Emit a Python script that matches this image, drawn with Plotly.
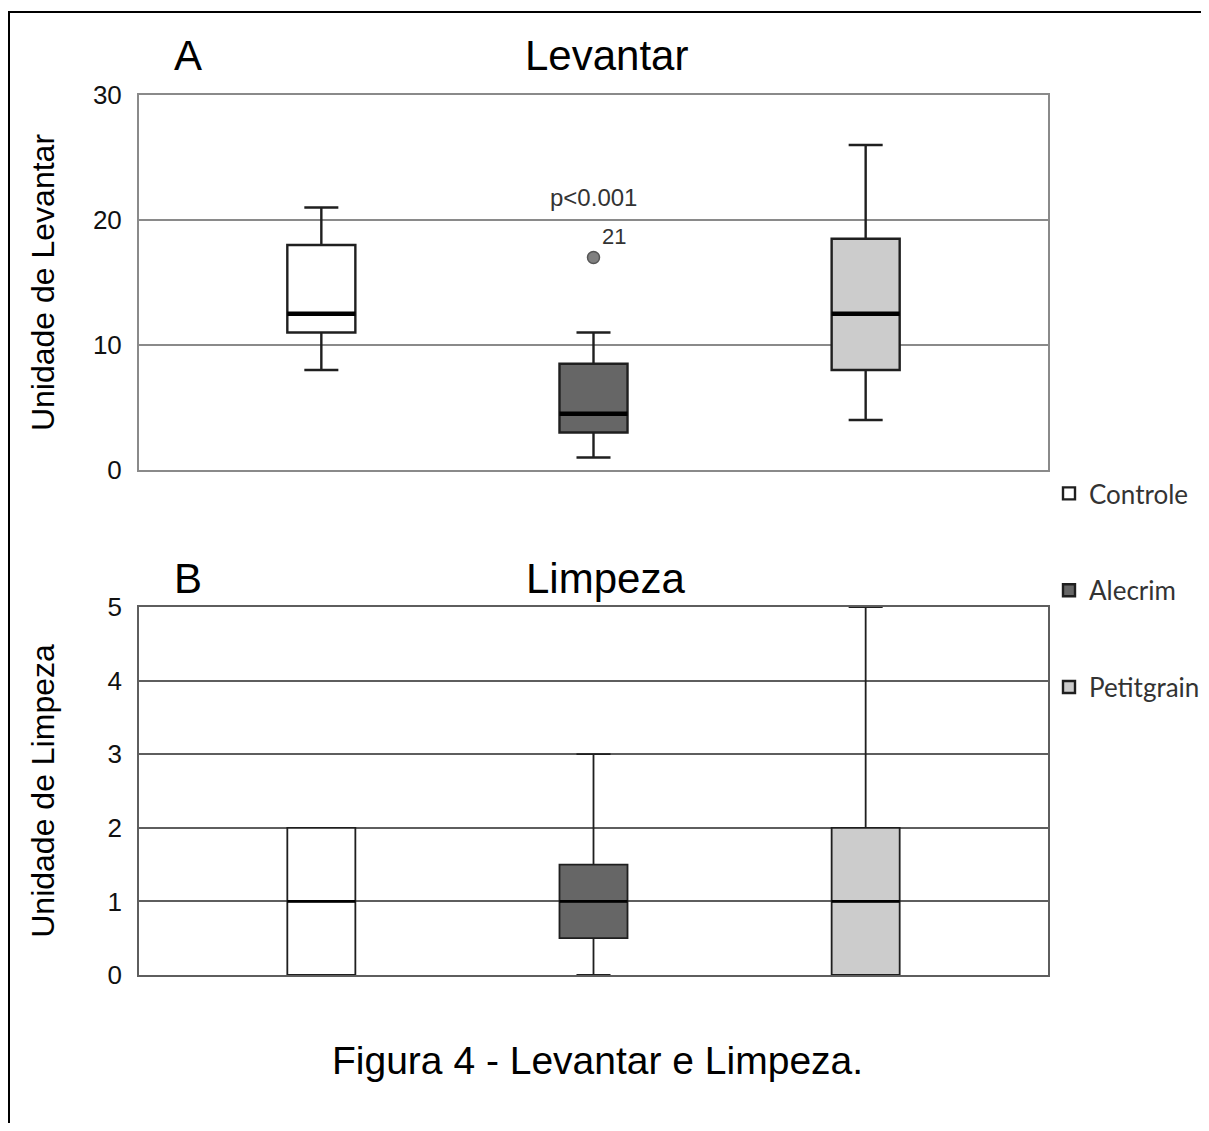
import plotly.graph_objects as go

# ---------------- data ----------------
groups = ["Controle", "Alecrim", "Petitgrain"]
fill_colors = ["#ffffff", "#666666", "#cccccc"]

# Panel A - Levantar
lev_min = [8, 1, 4]
lev_q1 = [11, 3, 8]
lev_med = [12.5, 4.5, 12.5]
lev_q3 = [18, 8.5, 18.5]
lev_max = [21, 11, 26]
lev_outlier_group = "Alecrim"
lev_outlier_value = [17]
lev_outlier_label = ["21"]
lev_ticks = [0, 10, 20, 30]

# Panel B - Limpeza
lim_min = [0, 0, 0]
lim_q1 = [0, 0.5, 0]
lim_med = [1, 1, 1]
lim_q3 = [2, 1.5, 2]
lim_max = [2, 3, 5]
lim_ticks = [0, 1, 2, 3, 4, 5]

# ---------------- layout helpers (screen pixel -> figure coords) ----------------
OFF = 8                      # page body margin
SW, SH = 1209, 1131          # screen size
W, H = SW - 2 * OFF, SH - 2 * OFF    # figure size (fits without scrollbars)
ML = 139 - OFF
MT = 95 - OFF
MR = (OFF + W) - 1048
MB = (OFF + H) - 975
PW, PH = W - ML - MR, H - MT - MB


def px_x(s):
    return (s - OFF - ML) / PW


def px_y(s):
    return (H - MB - (s - OFF)) / PH


BOX_W = 0.25
FONT = "Liberation Sans, Arial, sans-serif"
positions = list(range(len(groups)))

fig = go.Figure()


def add_panel(xa, ya, mins, q1s, meds, q3s, maxs, lw, med_w, show_legend):
    for i, g in enumerate(groups):
        fig.add_trace(go.Box(
            x=[positions[i]], q1=[q1s[i]], median=[meds[i]], q3=[q3s[i]],
            lowerfence=[mins[i]], upperfence=[maxs[i]],
            width=BOX_W, whiskerwidth=0.5, boxpoints=False,
            fillcolor=fill_colors[i],
            line=dict(color="#1f1f1f", width=lw),
            name=g, legendgroup=g, showlegend=show_legend,
            xaxis=xa, yaxis=ya, hoverinfo="y",
        ))
        fig.add_trace(go.Scatter(
            x=[positions[i] - BOX_W / 2, positions[i] + BOX_W / 2],
            y=[meds[i], meds[i]], mode="lines",
            line=dict(color="black", width=med_w),
            showlegend=False, hoverinfo="skip", legendgroup=g,
            xaxis=xa, yaxis=ya,
        ))


add_panel("x", "y", lev_min, lev_q1, lev_med, lev_q3, lev_max, 2.4, 4.5, True)
add_panel("x2", "y2", lim_min, lim_q1, lim_med, lim_q3, lim_max, 1.8, 2.6, False)

# outlier in panel A
oi = groups.index(lev_outlier_group)
fig.add_trace(go.Scatter(
    x=[positions[oi]], y=lev_outlier_value, mode="markers+text",
    marker=dict(size=12, color="#808080", line=dict(color="#555555", width=1.5)),
    text=lev_outlier_label, textposition="top right",
    textfont=dict(size=22, color="#333333", family=FONT),
    showlegend=False, xaxis="x", yaxis="y", hoverinfo="y",
))

grid_top = "#8a8a8a"
grid_bot = "#5e5e5e"
xrange = [-0.67, len(groups) - 1 + 0.67]

common_x = dict(range=xrange, showticklabels=False, showgrid=False, zeroline=False,
                showline=True, mirror=True, ticks="", fixedrange=True)
common_y = dict(zeroline=False, showline=True, mirror=True, ticks="outside",
                tickcolor="rgba(0,0,0,0)", ticklen=10,
                tickfont=dict(size=26, family=FONT, color="#111111"))

fig.update_layout(
    width=W, height=H,
    margin=dict(l=ML, r=MR, t=MT, b=MB, autoexpand=False),
    paper_bgcolor="white", plot_bgcolor="white",
    font=dict(family=FONT, color="black"),
    xaxis=dict(domain=[0, 1], anchor="y", linecolor=grid_top, linewidth=2, **common_x),
    yaxis=dict(domain=[px_y(470), px_y(95)], anchor="x", range=[0, 30], tickvals=lev_ticks,
               gridcolor=grid_top, gridwidth=2, linecolor=grid_top, linewidth=2,
               title=dict(text="Unidade de Levantar", font=dict(size=32, family=FONT), standoff=29),
               **common_y),
    xaxis2=dict(domain=[0, 1], anchor="y2", linecolor=grid_bot, linewidth=1.6, **common_x),
    yaxis2=dict(domain=[px_y(975), px_y(607)], anchor="x2", range=[0, 5], tickvals=lim_ticks,
                gridcolor=grid_bot, gridwidth=1.6, linecolor=grid_bot, linewidth=1.6,
                title=dict(text="Unidade de Limpeza", font=dict(size=32, family=FONT), standoff=43),
                **common_y),
    legend=dict(x=px_x(1049), xanchor="left", y=px_y(470), yanchor="top",
                tracegroupgap=60, bgcolor="rgba(0,0,0,0)", borderwidth=0,
                font=dict(family="Lato, Open Sans, sans-serif", size=26, color="#333333")),
    showlegend=True,
)

annots = [
    dict(text="A", x=px_x(188), y=px_y(55), size=42),
    dict(text="Levantar", x=px_x(606), y=px_y(55), size=42),
    dict(text="B", x=px_x(188), y=px_y(578), size=42),
    dict(text="Limpeza", x=px_x(605), y=px_y(578), size=42),
    dict(text="Figura 4 - Levantar e Limpeza.", x=px_x(597), y=px_y(1060), size=39),
]
for a in annots:
    fig.add_annotation(text=a["text"], x=a["x"], y=a["y"], xref="paper", yref="paper",
                       showarrow=False, xanchor="center", yanchor="middle",
                       font=dict(size=a["size"], family=FONT, color="black"))

fig.add_annotation(text="p<0.001", x=positions[1], y=21.8, xref="x", yref="y",
                   showarrow=False, xanchor="center", yanchor="middle",
                   font=dict(size=24, family=FONT, color="#333333"))

# figure frame
fig.add_shape(type="rect", xref="paper", yref="paper",
              x0=px_x(9), x1=px_x(SW + 10), y0=px_y(SH + 10), y1=px_y(12),
              line=dict(color="black", width=2), fillcolor="rgba(0,0,0,0)", layer="above")

fig.write_html("out.html")
